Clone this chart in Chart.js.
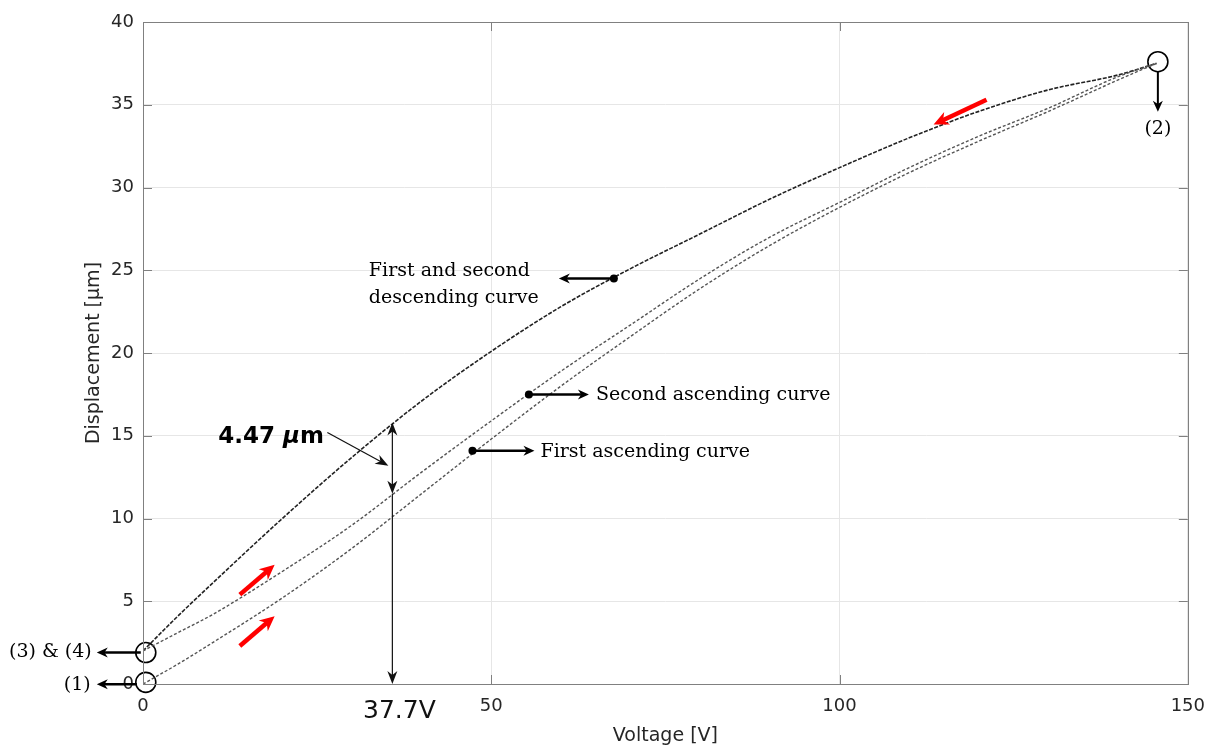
<!DOCTYPE html>
<html>
<head>
<meta charset="utf-8">
<script src="https://cdn.jsdelivr.net/npm/chart.js@4.4.0/dist/chart.umd.min.js"></script>
<style>
html, body { margin: 0; padding: 0; background: #fff; }
</style>
</head>
<body>
<canvas id="hystChart" width="1217" height="747"></canvas>
<script>
// voltage samples shared by the three measured curves
const voltage = [0, 5, 10, 20, 30, 40, 50, 60, 70, 80, 90, 100, 110, 120, 130, 140, 145.5];
const descending = [2.0, 4.1, 6.1, 10.0, 13.7, 17.1, 20.1, 22.8, 25.1, 27.2, 29.3, 31.2, 33.0, 34.6, 35.9, 36.8, 37.5];
const secondAscending = [2.0, 3.1, 4.2, 6.8, 9.6, 12.8, 15.9, 18.9, 21.7, 24.5, 27.0, 29.1, 31.2, 33.1, 34.8, 36.7, 37.5];
const firstAscending = [0.0, 1.2, 2.5, 5.2, 8.2, 11.5, 14.8, 18.0, 21.0, 23.9, 26.5, 28.8, 30.9, 32.8, 34.6, 36.5, 37.5];
// turning points (1), (3)&(4), (2)
const turnVoltage = [0.4, 0.4, 145.7];
const turnDisp = [0.1, 1.9, 37.6];

const xTicks = [0, 50, 100, 150];
const yTicks = [0, 5, 10, 15, 20, 25, 30, 35, 40];

const toPoints = (xs, ys) => xs.map((v, i) => ({ x: v, y: ys[i] }));

const SANS = "'DejaVu Sans', 'Liberation Sans', sans-serif";
const SERIF = "'DejaVu Serif', 'Liberation Serif', serif";

function arrow(ctx, x1, y1, x2, y2, o) {
	const len = o.head || 10, half = o.halfW || 4;
	const ang = Math.atan2(y2 - y1, x2 - x1);
	const cos = Math.cos(ang), sin = Math.sin(ang);
	ctx.save();
	ctx.strokeStyle = o.color;
	ctx.fillStyle = o.color;
	ctx.lineWidth = o.width;
	ctx.beginPath();
	ctx.moveTo(x1, y1);
	ctx.lineTo(x2 - cos * len * 0.6, y2 - sin * len * 0.6);
	ctx.stroke();
	ctx.beginPath();
	ctx.moveTo(x2, y2);
	ctx.lineTo(x2 - cos * len - sin * half, y2 - sin * len + cos * half);
	ctx.lineTo(x2 - cos * len * 0.7, y2 - sin * len * 0.7);
	ctx.lineTo(x2 - cos * len + sin * half, y2 - sin * len - cos * half);
	ctx.closePath();
	ctx.fill();
	ctx.restore();
}

function dot(ctx, x, y) {
	ctx.beginPath();
	ctx.arc(x, y, 4, 0, Math.PI * 2);
	ctx.fillStyle = '#000';
	ctx.fill();
}

const overlay = {
	id: 'overlay',
	afterDatasetsDraw(chart) {
		const { ctx, chartArea: a, scales: { x, y } } = chart;
		const px = (v) => x.getPixelForValue(v);
		const py = (v) => y.getPixelForValue(v);

		// box + inner ticks
		ctx.save();
		ctx.strokeStyle = '#808080';
		ctx.lineWidth = 1;
		ctx.strokeRect(Math.round(a.left) + 0.5, Math.round(a.top) + 0.5, Math.round(a.right - a.left), Math.round(a.bottom - a.top));
		ctx.beginPath();
		xTicks.forEach((v) => {
			const X = Math.round(px(v)) + 0.5;
			ctx.moveTo(X, a.bottom); ctx.lineTo(X, a.bottom - 9);
			ctx.moveTo(X, a.top); ctx.lineTo(X, a.top + 9);
		});
		yTicks.forEach((v) => {
			const Y = Math.round(py(v)) + 0.5;
			ctx.moveTo(a.left, Y); ctx.lineTo(a.left + 9, Y);
			ctx.moveTo(a.right, Y); ctx.lineTo(a.right - 9, Y);
		});
		ctx.stroke();
		ctx.restore();

		ctx.save();
		ctx.textBaseline = 'middle';
		ctx.fillStyle = '#000';
		ctx.font = '19px ' + SERIF;

		// turning point labels
		const p1 = { x: px(turnVoltage[0]), y: py(turnDisp[0]) };
		const p34 = { x: px(turnVoltage[1]), y: py(turnDisp[1]) };
		const p2 = { x: px(turnVoltage[2]), y: py(turnDisp[2]) };
		arrow(ctx, p34.x - 5, p34.y, p34.x - 49, p34.y, { color: '#000', width: 2.5, head: 11, halfW: 5 });
		ctx.textAlign = 'right';
		ctx.fillText('(3) & (4)', p34.x - 54, p34.y);
		arrow(ctx, p1.x - 9, p1.y + 2, p1.x - 49, p1.y + 2, { color: '#000', width: 2.5, head: 11, halfW: 5 });
		ctx.fillText('(1)', p1.x - 55, p1.y + 3);
		arrow(ctx, p2.x, p2.y + 10, p2.x, p2.y + 50, { color: '#000', width: 2, head: 11, halfW: 5 });
		ctx.textAlign = 'center';
		ctx.fillText('(2)', p2.x, p2.y + 67);

		// curve labels
		ctx.textAlign = 'left';
		const d = { x: px(67.6), y: py(24.5) };
		dot(ctx, d.x, d.y);
		arrow(ctx, d.x, d.y, d.x - 55, d.y, { color: '#000', width: 2.5, head: 11, halfW: 5 });
		ctx.fillText('First and second', d.x - 245, d.y - 7);
		ctx.fillText('descending curve', d.x - 245, d.y + 20);

		const s = { x: px(55.4), y: py(17.5) };
		dot(ctx, s.x, s.y);
		arrow(ctx, s.x, s.y, s.x + 60, s.y, { color: '#000', width: 2.5, head: 11, halfW: 5 });
		ctx.fillText('Second ascending curve', s.x + 67, s.y + 1);

		const f = { x: px(47.3), y: py(14.1) };
		dot(ctx, f.x, f.y);
		arrow(ctx, f.x, f.y, f.x + 62, f.y, { color: '#000', width: 2.5, head: 11, halfW: 5 });
		ctx.fillText('First ascending curve', f.x + 68, f.y + 1);

		// 4.47 um gap at the marked voltage
		const V = px(35.8), yTop = py(15.8), yMid = py(11.5), yBot = py(0);
		const thin = { color: '#111', width: 1.2, head: 13, halfW: 5 };
		arrow(ctx, V, (yTop + yMid) / 2, V, yTop, thin);
		arrow(ctx, V, (yTop + yMid) / 2, V, yMid, thin);
		arrow(ctx, V, yMid, V, yBot, thin);
		arrow(ctx, V - 65, yTop + 10, V - 4, yMid - 28, thin);

		ctx.font = 'bold 23px ' + SANS;
		let tx = V - 174;
		const ty = yTop + 15;
		ctx.fillText('4.47 ', tx, ty);
		tx += ctx.measureText('4.47 ').width;
		ctx.font = 'italic bold 23px ' + SANS;
		ctx.fillText('\u03bc', tx, ty);
		tx += ctx.measureText('\u03bc').width;
		ctx.font = 'bold 23px ' + SANS;
		ctx.fillText('m', tx, ty);

		ctx.font = '25px ' + SANS;
		ctx.textAlign = 'center';
		ctx.fillStyle = '#111';
		ctx.fillText('37.7V', V + 7, a.bottom + 27);

		// red direction arrows
		const red = { color: '#ff0000', width: 4.5, head: 15, halfW: 7 };
		arrow(ctx, px(13.9), py(5.4), px(18.9), py(7.2), red);
		arrow(ctx, px(13.9), py(2.3), px(18.9), py(4.1), red);
		arrow(ctx, px(121.1), py(35.3), px(113.5), py(33.8), red);
		ctx.restore();
	}
};

const ctx = document.getElementById('hystChart');

const myChart = new Chart(ctx, {
	type: 'scatter',
	data: {
		datasets: [
			{
				label: 'First ascending curve',
				data: toPoints(voltage, firstAscending),
				showLine: true,
				borderColor: '#555',
				borderWidth: 1.4,
				borderDash: [3, 2],
				pointRadius: 0,
				cubicInterpolationMode: 'monotone',
			},
			{
				label: 'Second ascending curve',
				data: toPoints(voltage, secondAscending),
				showLine: true,
				borderColor: '#555',
				borderWidth: 1.4,
				borderDash: [3, 2],
				pointRadius: 0,
				cubicInterpolationMode: 'monotone',
			},
			{
				label: 'First and second descending curve',
				data: toPoints(voltage, descending),
				showLine: true,
				borderColor: '#222',
				borderWidth: 1.6,
				borderDash: [4, 1.5],
				pointRadius: 0,
				cubicInterpolationMode: 'monotone',
			},
			{
				label: 'Turning points',
				data: toPoints(turnVoltage, turnDisp),
				showLine: false,
				pointRadius: 10,
				pointBorderWidth: 1.6,
				pointBorderColor: '#000',
				pointBackgroundColor: 'rgba(0,0,0,0)',
				clip: false,
			},
		],
	},
	options: {
		responsive: false,
		animation: false,
		layout: { padding: { left: 83, right: 27, top: 22, bottom: 0 } },
		plugins: { legend: { display: false }, tooltip: { enabled: false } },
		scales: {
			x: {
				type: 'linear',
				min: 0,
				max: 150,
				afterBuildTicks: (scale) => { scale.ticks = xTicks.map((v) => ({ value: v })); },
				afterFit: (scale) => { scale.height = 63; },
				grid: { color: '#e6e6e6', drawTicks: false },
				border: { display: false },
				ticks: { color: '#262626', padding: 12, font: { family: SANS, size: 18 } },
				title: { display: true, text: 'Voltage [V]', color: '#262626', padding: 0, font: { family: SANS, size: 19 } },
			},
			y: {
				type: 'linear',
				min: 0,
				max: 40,
				afterBuildTicks: (scale) => { scale.ticks = yTicks.map((v) => ({ value: v })); },
				afterFit: (scale) => { scale.width = 60; },
				grid: { color: '#e6e6e6', drawTicks: false },
				border: { display: false },
				ticks: { color: '#262626', padding: 9, font: { family: SANS, size: 18 } },
				title: { display: true, text: 'Displacement [\u03bcm]', color: '#262626', padding: 0, font: { family: SANS, size: 19 } },
			},
		},
	},
	plugins: [overlay],
});
</script>
</body>
</html>
